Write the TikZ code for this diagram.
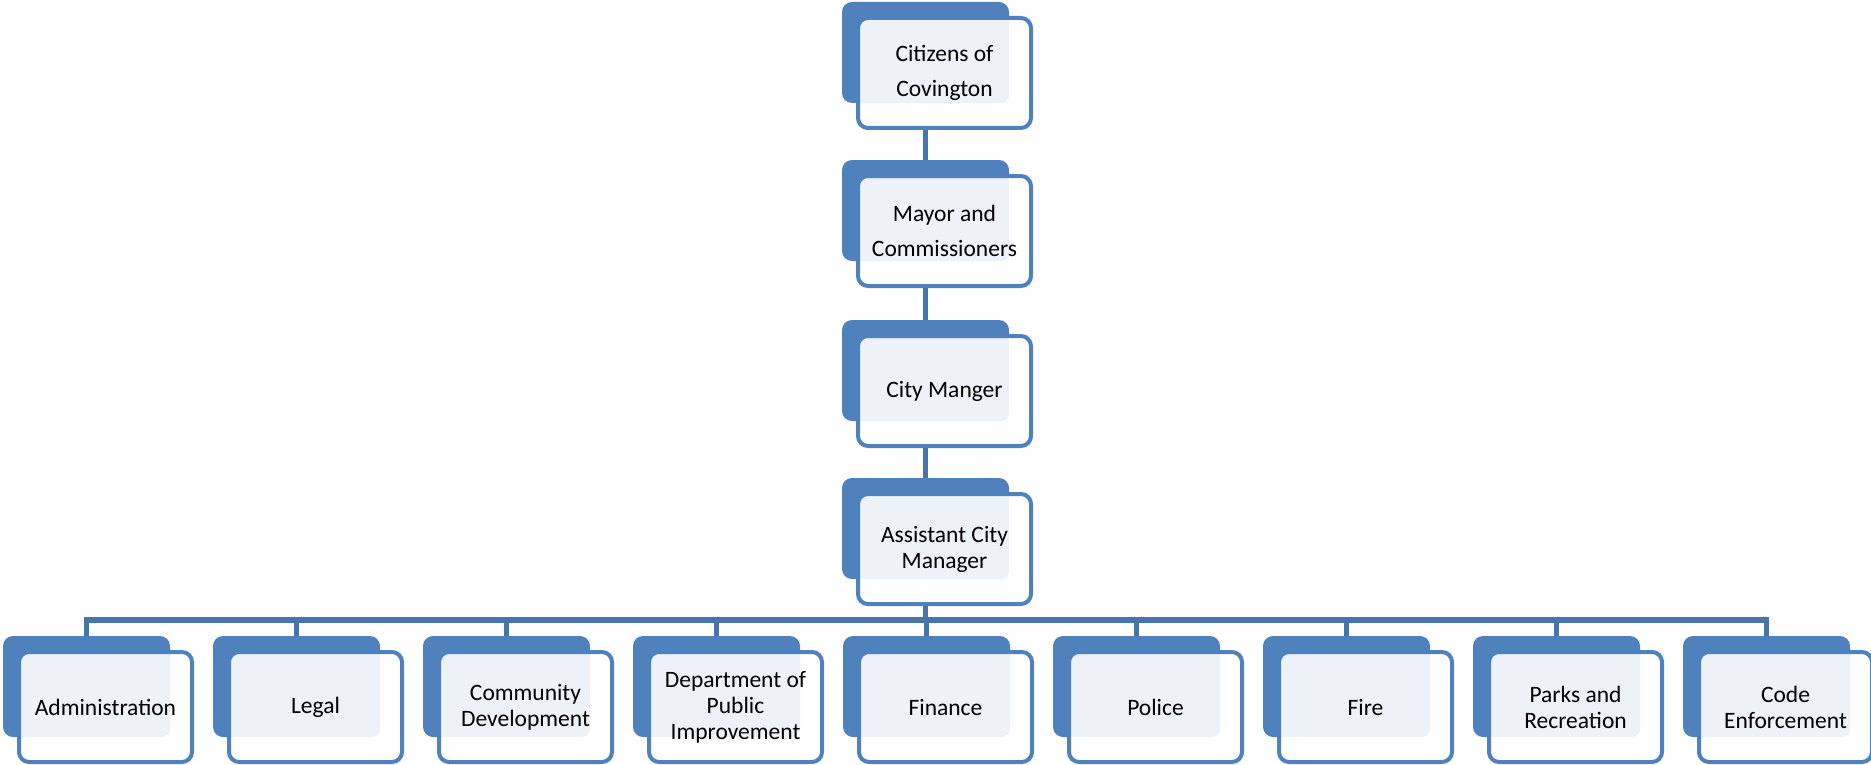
\documentclass[tikz,border=0pt]{standalone}
\usepackage{fontspec}
\setmainfont{Carlito}
\definecolor{accent}{HTML}{4F81BD}
\definecolor{conncol}{HTML}{4674AB}
\definecolor{tint}{HTML}{EDF1F8}
\pgfdeclarelayer{background}
\pgfsetlayers{background,main}
\tikzset{
  backbox/.style={fill=accent, rounded corners=10pt, minimum width=167pt, minimum height=101pt,
    inner sep=0pt, outer sep=0pt, anchor=north west},
  frontbox/.style={fill=white, draw=accent, line width=4pt, rounded corners=10pt,
    minimum width=173pt, minimum height=110pt, inner sep=0pt, outer sep=0pt, anchor=north west,
    align=center, font=\fontsize{23.5}{26}\selectfont, text=black,
    path picture={\fill[tint, rounded corners=8pt]
      ([xshift=-10pt,yshift=10pt]path picture bounding box.north west) rectangle ++(161,95);}},
  conn/.style={draw=conncol, line width=5.5pt}
}
\newcommand\orgunit[4]{%
  \node[backbox] (#1-b) at (#2,#3) {};
  \node[frontbox] (#1) at ({#2+16},{#3+16}) {#4};
}
\begin{document}
\begin{tikzpicture}[x=1pt,y=-1pt]
\useasboundingbox (0,0) rectangle (1871,765);
\orgunit{cit}{842}{2}{Citizens of\\[9pt]Covington}
\orgunit{may}{842}{160}{Mayor and\\[9pt]Commissioners}
\orgunit{cty}{842}{320}{City Manger}
\orgunit{ast}{842}{478}{Assistant City\\Manager}
\orgunit{adm}{3}{636}{Administration}
\orgunit{leg}{213}{636}{Legal}
\orgunit{com}{423}{636}{Community\\Development}
\orgunit{dpi}{633}{636}{Department of\\Public\\Improvement}
\orgunit{fin}{843}{636}{Finance}
\orgunit{pol}{1053}{636}{Police}
\orgunit{fir}{1263}{636}{Fire}
\orgunit{par}{1473}{636}{Parks and\\Recreation}
\orgunit{cod}{1683}{636}{Code\\Enforcement}
\begin{pgfonlayer}{background}
  \coordinate (bus) at (925.5,620);
  \draw[conn] (cit-b.south) -- (may-b.north);
  \draw[conn] (may-b.south) -- (cty-b.north);
  \draw[conn] (cty-b.south) -- (ast-b.north);
  \draw[conn] (ast-b.south) -- (bus);
  \foreach \n in {adm,leg,com,dpi,fin,pol,fir,par,cod}
    \draw[conn] (bus) -| (\n-b.north);
\end{pgfonlayer}
\end{tikzpicture}
\end{document}
